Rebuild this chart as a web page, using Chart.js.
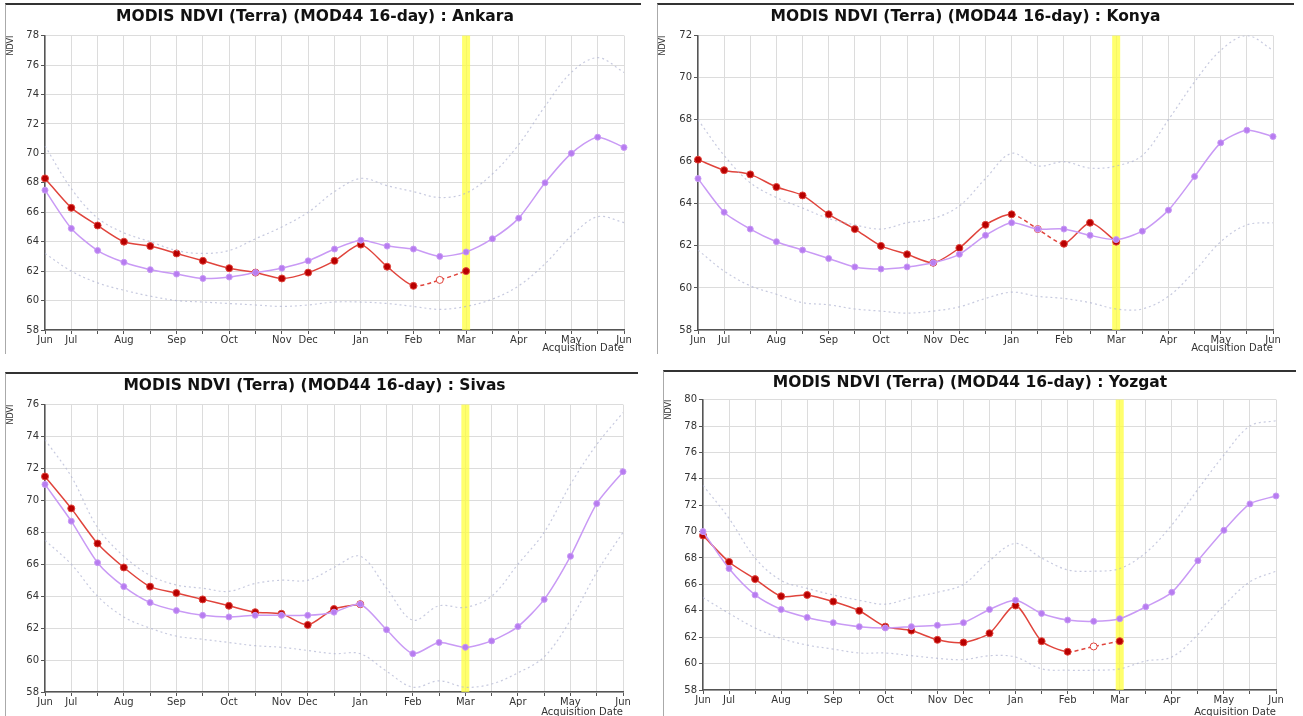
<!DOCTYPE html>
<html>
<head>
<meta charset="utf-8">
<script src="https://cdn.jsdelivr.net/npm/chart.js@4.4.1/dist/chart.umd.min.js"></script>
<style>
  body { margin: 0; background: #fff; width: 1303px; height: 716px; overflow: hidden; }
  .panel { position: absolute; background: #fff; border-top: 2px solid #333; border-left: 1px solid #aaa; }
</style>
</head>
<body>
<div class="panel" style="left:5px;top:3px;"><canvas id="c1" width="635" height="349"></canvas></div>
<div class="panel" style="left:657px;top:3px;"><canvas id="c2" width="636" height="349"></canvas></div>
<div class="panel" style="left:5px;top:372px;"><canvas id="c3" width="632" height="344"></canvas></div>
<div class="panel" style="left:663px;top:370px;"><canvas id="c4" width="632" height="346"></canvas></div>
<script>
// 16-day composites, Jun -> Jun
const labels = ['Jun','Jul','','Aug','','Sep','','Oct','','Nov','Dec','','Jan','','Feb','','Mar','','Apr','','May','','Jun'];
const nowIndex = 16; // current composite (Mar)

const ankaraMean = [67.5,64.9,63.4,62.6,62.1,61.8,61.5,61.6,61.9,62.2,62.7,63.5,64.1,63.7,63.5,63.0,63.3,64.2,65.6,68.0,70.0,71.1,70.4];
const ankaraCur  = [68.3,66.3,65.1,64.0,63.7,63.2,62.7,62.2,61.9,61.5,61.9,62.7,63.8,62.3,61.0,61.4,62.0];
const ankaraMax  = [70.5,67.6,65.6,64.6,64.0,63.4,63.2,63.4,64.2,65.0,66.0,67.4,68.3,67.8,67.4,67.0,67.3,68.6,70.6,73.2,75.5,76.5,75.5];
const ankaraMin  = [63.2,62.0,61.2,60.7,60.3,60.0,59.9,59.8,59.7,59.6,59.7,59.9,59.9,59.8,59.6,59.4,59.6,60.1,61.0,62.5,64.4,65.7,65.3];
const ankaraEst  = [15];

const konyaMean = [65.2,63.6,62.8,62.2,61.8,61.4,61.0,60.9,61.0,61.2,61.6,62.5,63.1,62.8,62.8,62.5,62.3,62.7,63.7,65.3,66.9,67.5,67.2];
const konyaCur  = [66.1,65.6,65.4,64.8,64.4,63.5,62.8,62.0,61.6,61.2,61.9,63.0,63.5,62.8,62.1,63.1,62.2];
const konyaMax  = [68.0,66.3,65.0,64.3,63.8,63.3,63.0,62.8,63.1,63.3,63.9,65.2,66.4,65.8,66.0,65.7,65.8,66.3,68.0,69.8,71.3,72.0,71.3];
const konyaMin  = [61.8,60.8,60.1,59.7,59.3,59.2,59.0,58.9,58.8,58.9,59.1,59.5,59.8,59.6,59.5,59.3,59.0,59.0,59.6,60.8,62.2,63.0,63.1];
const konyaEst  = [13];

const sivasMean = [71.0,68.7,66.1,64.6,63.6,63.1,62.8,62.7,62.8,62.8,62.8,63.0,63.5,61.9,60.4,61.1,60.8,61.2,62.1,63.8,66.5,69.8,71.8];
const sivasCur  = [71.5,69.5,67.3,65.8,64.6,64.2,63.8,63.4,63.0,62.9,62.2,63.2,63.5];
const sivasMax  = [73.8,71.5,68.3,66.5,65.3,64.7,64.5,64.3,64.8,65.0,65.0,65.8,66.5,64.5,62.5,63.4,63.3,64.0,66.0,68.0,71.0,73.5,75.5];
const sivasMin  = [67.5,66.0,64.0,62.7,62.0,61.5,61.3,61.1,60.9,60.8,60.6,60.4,60.4,59.3,58.3,58.7,58.3,58.5,59.2,60.2,62.5,65.5,68.0];
const sivasEst  = [];

const yozgatMean = [70.0,67.2,65.2,64.1,63.5,63.1,62.8,62.7,62.8,62.9,63.1,64.1,64.8,63.8,63.3,63.2,63.4,64.3,65.4,67.8,70.1,72.1,72.7];
const yozgatCur  = [69.7,67.7,66.4,65.1,65.2,64.7,64.0,62.8,62.5,61.8,61.6,62.3,64.4,61.7,60.9,61.3,61.7];
const yozgatMax  = [73.5,71.0,68.0,66.3,65.7,65.2,64.8,64.5,65.0,65.4,66.0,67.8,69.1,68.0,67.1,67.0,67.2,68.4,70.5,73.2,75.8,78.0,78.4];
const yozgatMin  = [65.0,63.8,62.7,61.9,61.4,61.1,60.8,60.8,60.6,60.4,60.3,60.6,60.5,59.6,59.5,59.5,59.6,60.2,60.5,62.2,64.4,66.2,67.0];
const yozgatEst  = [15];

const font = 'DejaVu Sans';

const nowBar = {
  id: 'nowBar',
  beforeDatasetsDraw(chart) {
    const x = chart.scales.x.getPixelForValue(nowIndex);
    const a = chart.chartArea;
    const ctx = chart.ctx;
    ctx.save();
    ctx.fillStyle = 'rgba(255,255,60,0.75)';
    ctx.fillRect(x - 4, a.top, 8, a.bottom - a.top);
    ctx.restore();
  }
};

function makePanel(id, place, mean, cur, max, min, est, yMin, yMax, fit) {
  const dotted = (data) => ({
    data: data, borderColor: 'rgba(175,180,210,0.7)', borderWidth: 1.2,
    borderDash: [2, 3], pointRadius: 0, tension: 0.35, fill: false
  });
  new Chart(document.getElementById(id), {
    type: 'line',
    data: {
      labels: labels,
      datasets: [
        dotted(max),
        dotted(min),
        {
          data: mean, borderColor: '#c99af5', borderWidth: 1.5, tension: 0.25,
          pointRadius: 3, pointBackgroundColor: '#b77cf0', pointBorderColor: '#c99af5', pointBorderWidth: 1
        },
        {
          data: cur, borderColor: '#e0443c', borderWidth: 1.5, tension: 0.25,
          pointRadius: 3.5,
          pointBackgroundColor: cur.map((v, i) => est.includes(i) ? '#fff' : '#b80000'),
          pointBorderColor: '#e0443c', pointBorderWidth: 1,
          segment: {
            borderDash: c => (est.includes(c.p0DataIndex) || est.includes(c.p1DataIndex)) ? [4, 3] : undefined
          }
        }
      ]
    },
    options: {
      responsive: false,
      animation: false,
      layout: { padding: { left: 0, right: fit.right, top: 0, bottom: 0 } },
      plugins: {
        legend: { display: false },
        tooltip: { enabled: false },
        title: {
          display: true,
          text: 'MODIS NDVI (Terra) (MOD44 16-day) : ' + place,
          color: '#111',
          font: { family: font, size: 15.5, weight: 'bold' },
          padding: { top: fit.titleTop, bottom: fit.titleBottom }
        }
      },
      scales: {
        x: {
          grid: { color: '#dcdcdc', tickLength: 4, tickColor: '#555' },
          border: { color: '#555', width: 1.5 },
          ticks: { color: '#333', font: { family: font, size: 10 }, autoSkip: false, maxRotation: 0, padding: 0 },
          title: { display: true, text: 'Acquisition Date', align: 'end', color: '#333', font: { family: font, size: 10 }, padding: 0 },
          afterFit: s => { s.height = fit.xh; }
        },
        y: {
          min: yMin, max: yMax,
          grid: { color: '#dcdcdc', tickLength: 4, tickColor: '#555' },
          border: { color: '#555', width: 1.5 },
          ticks: { stepSize: 2, color: '#333', font: { family: font, size: 10 }, padding: 2 },
          title: { display: true, text: 'NDVI', align: 'end', color: '#333', font: { family: font, size: 8 }, padding: 0 },
          afterFit: s => { s.width = fit.yw; }
        }
      }
    },
    plugins: [nowBar]
  });
}

makePanel('c1', 'Ankara', ankaraMean, ankaraCur, ankaraMax, ankaraMin, ankaraEst, 58, 78,
  { right: 17, yw: 39, xh: 24, titleTop: 3, titleBottom: 9 });
makePanel('c2', 'Konya', konyaMean, konyaCur, konyaMax, konyaMin, konyaEst, 58, 72,
  { right: 21, yw: 40, xh: 24, titleTop: 3, titleBottom: 9 });
makePanel('c3', 'Sivas', sivasMean, sivasCur, sivasMax, sivasMin, sivasEst, 58, 76,
  { right: 15, yw: 39, xh: 26, titleTop: 3, titleBottom: 9 });
makePanel('c4', 'Yozgat', yozgatMean, yozgatCur, yozgatMax, yozgatMin, yozgatEst, 58, 80,
  { right: 20, yw: 39, xh: 28, titleTop: 2, titleBottom: 7 });
</script>
</body>
</html>
